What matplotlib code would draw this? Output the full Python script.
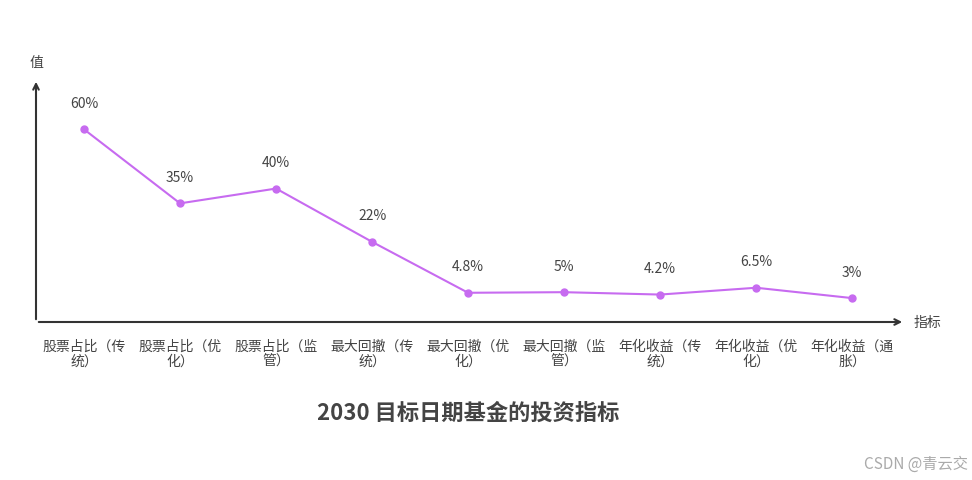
import matplotlib
matplotlib.use("Agg")
import matplotlib.pyplot as plt

plt.rcParams['font.family'] = ['Noto Sans CJK SC', 'DejaVu Sans']

categories = ["股票占比（传\n统）", "股票占比（优\n化）", "股票占比（监\n管）",
              "最大回撤（传\n统）", "最大回撤（优\n化）", "最大回撤（监\n管）",
              "年化收益（传\n统）", "年化收益（优\n化）", "年化收益（通\n胀）"]
values = [60, 35, 40, 22, 4.8, 5, 4.2, 6.5, 3]
value_labels = ["60%", "35%", "40%", "22%", "4.8%", "5%", "4.2%", "6.5%", "3%"]

color = "#c76bf0"
text_color = "#444444"

fig = plt.figure(figsize=(9.72, 4.81), dpi=100)
ax = fig.add_axes([36 / 972, 158 / 481, (905 - 36) / 972, (323 - 80) / 481])
xs = list(range(len(values)))
ax.plot(xs, values, color=color, lw=1.5, marker="o", ms=5)
for x, v, lab in zip(xs, values, value_labels):
    ax.annotate(lab, (x, v), xytext=(0, 14), textcoords="offset points",
                ha="center", va="bottom", fontsize=10, color=text_color)
ax.set_xlim(-0.5, 8.55)
ax.set_ylim(-5.07, 77)
for s in ax.spines.values():
    s.set_visible(False)
ax.set_xticks(xs)
ax.set_xticklabels(categories, fontsize=10, color=text_color, linespacing=1.1)
ax.tick_params(axis="x", length=0, pad=12)
ax.set_yticks([])
# axes with arrows
ax.annotate("", xy=(1, 0), xycoords="axes fraction", xytext=(0, 0),
            arrowprops=dict(arrowstyle="->", color="#333333", lw=1.5))
ax.annotate("", xy=(0, 1), xycoords="axes fraction", xytext=(0, 0),
            arrowprops=dict(arrowstyle="->", color="#333333", lw=1.5))
ax.text(1.01, 0, "指标", transform=ax.transAxes, ha="left", va="center",
        fontsize=10, color=text_color)
ax.text(0, 1.04, "值", transform=ax.transAxes, ha="center", va="bottom",
        fontsize=10, color=text_color)

fig.text(468 / 972, 1 - 413 / 481, "2030 目标日期基金的投资指标", ha="center",
         va="center", fontsize=16, fontweight="bold", color=text_color)
fig.text(968 / 972, 1 - 464 / 481, "CSDN @青云交", ha="right", va="center",
         fontsize=11, color="#aaaaaa")

fig.savefig("out.png", dpi=100)
